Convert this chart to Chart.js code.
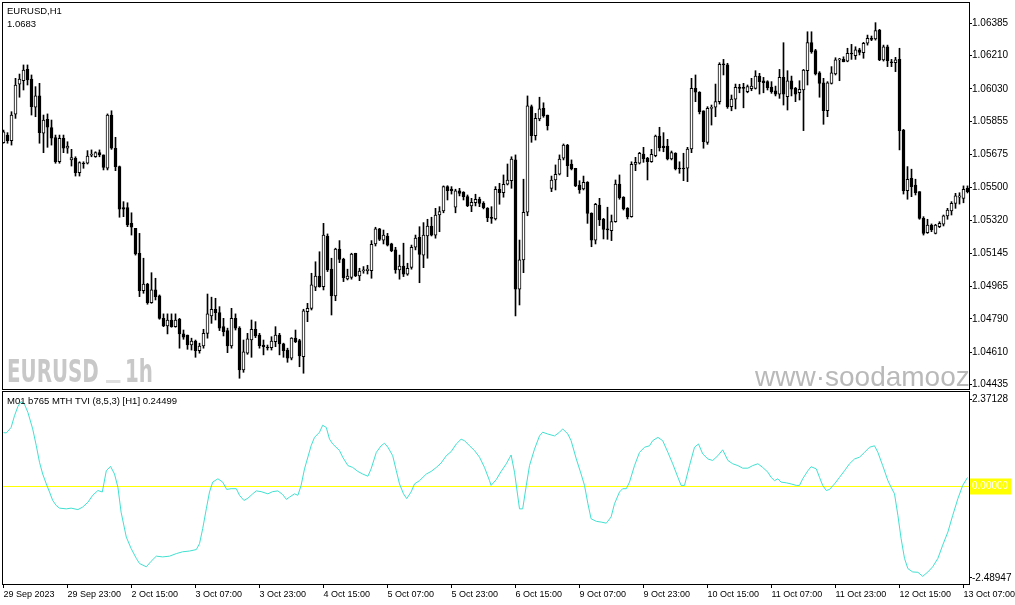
<!DOCTYPE html>
<html>
<head>
<meta charset="utf-8">
<script src="https://cdn.jsdelivr.net/npm/chart.js@4.4.1/dist/chart.umd.min.js"></script>
<style>
html, body { margin: 0; padding: 0; background: #fff; }
#wrap { position: relative; width: 1015px; height: 605px; overflow: hidden; background: #fff; }
canvas { position: absolute; left: 0; }
#price { top: 0; }
#tvi { top: 390px; }
</style>
</head>
<body>
<div id="wrap">
  <canvas id="price" width="1015" height="390"></canvas>
  <canvas id="tvi" width="1015" height="215"></canvas>
</div>
<script>
// EURUSD H1 bars, index 0 = 29 Sep 07:00 ... 241 = 13 Oct 08:00
const openP = [
  1.05740,1.05781,1.05751,1.05893,1.06055,1.06074,1.06135,1.06083,1.05931,1.05992,
  1.05791,1.05866,1.05821,1.05767,1.05637,1.05764,1.05710,1.05647,1.05656,1.05578,
  1.05629,1.05629,1.05672,1.05664,1.05686,1.05674,1.05602,1.05889,1.05710,1.05611,
  1.05390,1.05390,1.05305,1.05278,1.05144,1.04942,1.04978,1.04877,1.04946,1.04914,
  1.04793,1.04752,1.04784,1.04748,1.04788,1.04709,1.04703,1.04649,1.04671,1.04619,
  1.04644,1.04712,1.04806,1.04842,1.04824,1.04748,1.04727,1.04644,1.04793,1.04740,
  1.04515,1.04605,1.04676,1.04734,1.04703,1.04649,1.04635,1.04635,1.04667,1.04703,
  1.04655,1.04622,1.04578,1.04686,1.04673,1.04586,1.04829,1.04847,1.04961,1.05021,
  1.04964,1.05237,1.05058,1.04914,1.05167,1.05111,1.05005,1.05014,1.05144,1.05021,
  1.05048,1.05050,1.05050,1.05194,1.05275,1.05215,1.05237,1.05194,1.05162,1.05054,
  1.05075,1.05031,1.05068,1.05176,1.05230,1.05134,1.05237,1.05291,1.05242,1.05350,
  1.05372,1.05503,1.05490,1.05392,1.05480,1.05472,1.05449,1.05399,1.05416,1.05436,
  1.05413,1.05386,1.05336,1.05329,1.05489,1.05470,1.05516,1.05535,1.05647,1.04950,
  1.05108,1.05365,1.05934,1.05778,1.05868,1.05925,1.05889,1.05494,1.05539,1.05570,
  1.05656,1.05727,1.05625,1.05602,1.05512,1.05490,1.05526,1.05359,1.05215,1.05404,
  1.05327,1.05275,1.05266,1.05314,1.05517,1.05446,1.05386,1.05341,1.05623,1.05629,
  1.05679,1.05656,1.05637,1.05670,1.05776,1.05722,1.05722,1.05652,1.05683,1.05602,
  1.05602,1.05602,1.05706,1.06033,1.06012,1.05911,1.05742,1.05925,1.05931,1.05961,
  1.06162,1.06159,1.05934,1.05975,1.06036,1.06035,1.06015,1.06031,1.06033,1.06099,
  1.06074,1.06069,1.06040,1.06020,1.06002,1.06092,1.05988,1.06074,1.06033,1.06009,
  1.06024,1.06128,1.06279,1.06236,1.06117,1.06063,1.05912,1.06060,1.06110,1.06186,
  1.06189,1.06180,1.06222,1.06209,1.06240,1.06225,1.06276,1.06303,1.06299,1.06347,
  1.06186,1.06257,1.06176,1.06171,1.06189,1.05808,1.05481,1.05548,1.05512,1.05476,
  1.05332,1.05255,1.05296,1.05251,1.05287,1.05300,1.05345,1.05372,1.05413,1.05446,
  1.05440,1.05494
];
const highP = [
  1.05808,1.05794,1.05907,1.06087,1.06110,1.06159,1.06159,1.06105,1.06042,1.06060,
  1.05889,1.05895,1.05862,1.05781,1.05781,1.05781,1.05745,1.05704,1.05664,1.05637,
  1.05637,1.05697,1.05701,1.05691,1.05701,1.05674,1.05895,1.05912,1.05769,1.05614,
  1.05422,1.05416,1.05362,1.05278,1.05251,1.05117,1.04982,1.05039,1.05009,1.04919,
  1.04817,1.04817,1.04817,1.04817,1.04793,1.04730,1.04703,1.04686,1.04676,1.04659,
  1.04734,1.04924,1.04907,1.04901,1.04856,1.04793,1.04740,1.04847,1.04817,1.04748,
  1.04676,1.04712,1.04784,1.04775,1.04712,1.04676,1.04649,1.04694,1.04748,1.04712,
  1.04659,1.04632,1.04689,1.04730,1.04680,1.04842,1.04874,1.05036,1.05098,1.05152,
  1.05305,1.05248,1.05117,1.05171,1.05212,1.05117,1.05058,1.05144,1.05144,1.05063,
  1.05072,1.05079,1.05212,1.05284,1.05278,1.05269,1.05251,1.05198,1.05176,1.05134,
  1.05198,1.05090,1.05188,1.05242,1.05287,1.05309,1.05327,1.05338,1.05386,1.05395,
  1.05507,1.05508,1.05503,1.05489,1.05494,1.05476,1.05458,1.05440,1.05462,1.05446,
  1.05422,1.05390,1.05395,1.05503,1.05521,1.05566,1.05625,1.05664,1.05674,1.05215,
  1.05543,1.05992,1.05943,1.05898,1.05985,1.05955,1.05889,1.05560,1.05620,1.05674,
  1.05733,1.05731,1.05647,1.05602,1.05535,1.05560,1.05530,1.05362,1.05413,1.05440,
  1.05332,1.05392,1.05350,1.05539,1.05566,1.05449,1.05390,1.05637,1.05661,1.05688,
  1.05715,1.05661,1.05704,1.05781,1.05823,1.05794,1.05758,1.05695,1.05686,1.05637,
  1.05683,1.05715,1.06087,1.06105,1.06015,1.05912,1.05934,1.05943,1.06056,1.06171,
  1.06189,1.06168,1.05997,1.06056,1.06055,1.06060,1.06051,1.06087,1.06128,1.06114,
  1.06092,1.06074,1.06069,1.06045,1.06135,1.06279,1.06128,1.06099,1.06038,1.06074,
  1.06135,1.06338,1.06338,1.06243,1.06123,1.06087,1.06069,1.06150,1.06198,1.06195,
  1.06203,1.06249,1.06270,1.06257,1.06249,1.06281,1.06320,1.06315,1.06387,1.06351,
  1.06266,1.06266,1.06189,1.06200,1.06249,1.05812,1.05611,1.05597,1.05543,1.05476,
  1.05341,1.05327,1.05302,1.05300,1.05314,1.05350,1.05386,1.05422,1.05467,1.05470,
  1.05507,1.05507
];
const lowP = [
  1.05737,1.05737,1.05727,1.05871,1.05985,1.06024,1.06051,1.05889,1.05880,1.05737,
  1.05686,1.05715,1.05727,1.05629,1.05629,1.05686,1.05683,1.05614,1.05560,1.05560,
  1.05602,1.05625,1.05664,1.05661,1.05664,1.05593,1.05593,1.05704,1.05589,1.05338,
  1.05341,1.05287,1.05242,1.05134,1.04910,1.04928,1.04869,1.04874,1.04892,1.04788,
  1.04748,1.04709,1.04745,1.04745,1.04632,1.04680,1.04626,1.04622,1.04583,1.04605,
  1.04632,1.04686,1.04766,1.04784,1.04727,1.04698,1.04608,1.04632,1.04730,1.04470,
  1.04502,1.04599,1.04583,1.04689,1.04632,1.04596,1.04622,1.04622,1.04640,1.04596,
  1.04583,1.04556,1.04569,1.04662,1.04532,1.04497,1.04775,1.04838,1.04942,1.04961,
  1.04946,1.05045,1.04811,1.04888,1.05093,1.04991,1.05000,1.05004,1.05018,1.04996,
  1.05036,1.05032,1.05009,1.05183,1.05212,1.05194,1.05183,1.05152,1.05036,1.05004,
  1.05018,1.05025,1.05058,1.05162,1.04985,1.05066,1.05117,1.05237,1.05225,1.05260,
  1.05362,1.05431,1.05463,1.05362,1.05453,1.05431,1.05395,1.05368,1.05399,1.05395,
  1.05383,1.05314,1.05305,1.05323,1.05408,1.05446,1.05512,1.05494,1.04806,1.04865,
  1.05039,1.05346,1.05742,1.05754,1.05858,1.05877,1.05808,1.05476,1.05485,1.05566,
  1.05647,1.05557,1.05593,1.05503,1.05467,1.05485,1.05305,1.05179,1.05194,1.05293,
  1.05221,1.05219,1.05212,1.05311,1.05435,1.05377,1.05329,1.05338,1.05589,1.05625,
  1.05634,1.05539,1.05634,1.05664,1.05695,1.05691,1.05647,1.05647,1.05593,1.05575,
  1.05535,1.05530,1.05686,1.05961,1.05895,1.05710,1.05731,1.05835,1.05880,1.05948,
  1.06105,1.05925,1.05912,1.05922,1.06009,1.05928,1.06009,1.06020,1.06029,1.06002,
  1.06009,1.06024,1.06006,1.05992,1.05979,1.05943,1.05916,1.05992,1.05961,1.05970,
  1.05805,1.06051,1.06222,1.06105,1.05985,1.05839,1.05880,1.06056,1.06105,1.06074,
  1.06176,1.06176,1.06189,1.06189,1.06213,1.06195,1.06266,1.06290,1.06293,1.06182,
  1.06180,1.06150,1.06150,1.06123,1.05701,1.05463,1.05435,1.05449,1.05458,1.05327,
  1.05242,1.05251,1.05260,1.05248,1.05282,1.05291,1.05327,1.05350,1.05386,1.05409,
  1.05416,1.05469
];
const closeP = [
  1.05799,1.05751,1.05889,1.06051,1.06083,1.06132,1.06078,1.05934,1.05992,1.05794,
  1.05862,1.05823,1.05764,1.05637,1.05764,1.05710,1.05722,1.05659,1.05578,1.05632,
  1.05625,1.05668,1.05674,1.05686,1.05674,1.05607,1.05889,1.05710,1.05611,1.05381,
  1.05381,1.05296,1.05284,1.05140,1.04942,1.04978,1.04877,1.04946,1.04910,1.04793,
  1.04752,1.04784,1.04748,1.04784,1.04709,1.04691,1.04649,1.04671,1.04619,1.04644,
  1.04712,1.04817,1.04842,1.04824,1.04740,1.04721,1.04644,1.04793,1.04740,1.04515,
  1.04613,1.04682,1.04734,1.04698,1.04646,1.04640,1.04633,1.04671,1.04703,1.04655,
  1.04619,1.04578,1.04686,1.04667,1.04590,1.04833,1.04847,1.04973,1.05021,1.04964,
  1.05242,1.05054,1.04914,1.05167,1.05111,1.05012,1.05021,1.05140,1.05021,1.05048,
  1.05054,1.05059,1.05192,1.05275,1.05219,1.05242,1.05188,1.05158,1.05054,1.05075,
  1.05031,1.05063,1.05176,1.05225,1.05138,1.05242,1.05291,1.05242,1.05350,1.05368,
  1.05503,1.05481,1.05481,1.05480,1.05467,1.05449,1.05400,1.05419,1.05435,1.05413,
  1.05390,1.05336,1.05332,1.05489,1.05470,1.05516,1.05539,1.05652,1.04950,1.05108,
  1.05365,1.05938,1.05778,1.05871,1.05922,1.05884,1.05831,1.05539,1.05570,1.05652,
  1.05727,1.05616,1.05598,1.05507,1.05485,1.05526,1.05359,1.05215,1.05408,1.05323,
  1.05273,1.05269,1.05314,1.05517,1.05443,1.05383,1.05341,1.05623,1.05634,1.05683,
  1.05652,1.05637,1.05677,1.05776,1.05713,1.05713,1.05652,1.05686,1.05598,1.05598,
  1.05598,1.05706,1.06033,1.06012,1.05907,1.05745,1.05925,1.05931,1.05961,1.06162,
  1.06159,1.05934,1.05975,1.06038,1.06033,1.06033,1.06042,1.06045,1.06099,1.06069,
  1.06063,1.06036,1.06015,1.06002,1.06092,1.06002,1.06074,1.06029,1.06002,1.06028,
  1.06132,1.06279,1.06230,1.06110,1.06060,1.05912,1.06063,1.06117,1.06186,1.06189,
  1.06176,1.06222,1.06218,1.06240,1.06227,1.06276,1.06303,1.06297,1.06344,1.06186,
  1.06257,1.06182,1.06171,1.06186,1.05805,1.05481,1.05543,1.05503,1.05470,1.05332,
  1.05251,1.05296,1.05269,1.05296,1.05305,1.05345,1.05377,1.05413,1.05453,1.05453,
  1.05489,1.05476
];

const priceTicks = [1.06385, 1.06210, 1.06030, 1.05855, 1.05675, 1.05500, 1.05320, 1.05145, 1.04965, 1.04790, 1.04610, 1.04435];

// TVI indicator, sampled along the curve (bar position, value)
const tviBar = [
  0,0.7,1.9,2.75,3.6,4.4,5.25,6.1,7.3,8.2, 9,9.8,10.7,11.5,12.3,13.2,14,15.7,16.9,18.6,
  19.8,21.1,22.3,23.6,24.7,25.7,26.75,27.75,28.6,29.4, 30.7,31.9,33.2,34,35.7,36.9,38.2,39.8,41.5,43.2,
  44.8,46.5,48.2,49,49.8,50.7,51.5,52.3,53.6,54.8, 55.8,56.9,58.2,59,60.1,61.1,62.3,63.2,64.4,66.1,
  67.3,68.6,69.8,70.7,71.5,72.75,73.6,74.4,75.25,76.9, 77.75,79,79.8,80.7,81.5,82.3,84,84.8,86.1,87.3,
  88.6,89.8,91.1,91.9,93.2,94.4,95.25,96.1,97.3,98.2, 99,100,100.8,101.9,102.75,104,105.7,106.9,108.2,109.4,
  110.7,111.9,113.2,114.4,115.25,116.5,117.75,119,120.25,121.5, 121.9,123.2,124.4,125.7,126.9,127.75,129,129.8,130.7,131.5,
  132.75,134,134.8,136.1,137.75,139,139.8,141.1,141.9,143.2, 144.4,145.25,146.1,146.9,148.2,149.4,150.7,151.9,152.75,154,
  154.8,155.7,156.5,157.75,159,160.25,161.5,162.3,163.6,164.8, 166.1,167.3,168.6,169.4,170.25,171.5,172.75,173.75,174.8,176.1,
  177.3,178.6,179.8,181.1,182.3,183.6,184.8,186.1,187.3,188.6, 189.8,191.1,191.9,192.75,193.6,194.4,195.7,196.9,198.2,199,
  199.8,201.1,201.9,203.2,204,204.8,205.7,206.5,207.75,209, 210.25,211.5,212.75,214,215.25,216.5,217.75,218.6,219.8,221.1,
  221.9,222.75,223.6,224.4,225.25,226.1,227.3,228.6,229.8,231.1, 232.3,233.6,234.8,236.1,237.3,238.6,239.8,241
];
const tviVal = [
  1.47,1.46,1.61,1.93,2.18,2.32,2.24,2.02,1.57,1.11, 0.66,0.34,0.07,-0.15,-0.38,-0.52,-0.59,-0.61,-0.59,-0.63,
  -0.56,-0.43,-0.24,-0.11,-0.15,0.43,0.55,0.34,-0.02,-0.70, -1.38,-1.69,-1.96,-2.10,-2.19,-2.04,-1.90,-1.92,-1.90,-1.83,
  -1.78,-1.76,-1.72,-1.56,-1.15,-0.61,-0.15,0.12,0.21,0.12, -0.08,-0.06,-0.06,-0.24,-0.38,-0.32,-0.20,-0.12,-0.14,-0.20,
  -0.14,-0.12,-0.22,-0.35,-0.29,-0.20,-0.24,0.03,0.48,1.11, 1.34,1.48,1.67,1.61,1.29,1.16,0.98,0.80,0.57,0.52,
  0.41,0.34,0.28,0.48,0.93,1.11,1.18,1.07,0.84,0.43, 0.07,-0.20,-0.33,-0.15,0.07,0.16,0.34,0.41,0.52,0.64,
  0.84,0.95,1.16,1.29,1.25,1.11,0.98,0.80,0.52,0.16, 0.03,0.19,0.41,0.62,0.86,0.39,-0.61,-0.61,0.03,0.57,
  1.02,1.38,1.48,1.43,1.38,1.48,1.57,1.43,1.25,0.75, 0.34,0.03,-0.47,-0.88,-0.95,-0.97,-1.00,-0.83,-0.47,-0.15,
  -0.06,-0.06,0.12,0.57,0.93,1.07,1.11,1.25,1.34,1.25, 0.93,0.62,0.25,0.03,0.03,0.57,1.07,1.16,0.89,0.75,
  0.71,0.84,1.00,0.71,0.62,0.57,0.50,0.50,0.57,0.62, 0.52,0.39,0.25,0.16,0.21,0.12,0.10,0.07,0.03,0.03,
  0.21,0.43,0.54,0.48,0.25,0.03,-0.11,-0.08,0.07,0.25, 0.43,0.62,0.75,0.80,0.93,1.07,1.11,0.93,0.57,0.16,
  -0.02,-0.20,-0.79,-1.42,-1.96,-2.24,-2.33,-2.34,-2.45,-2.33, -2.19,-1.96,-1.60,-1.24,-0.79,-0.33,0.03,0.24499
];
const tviTicks = [2.37128, 0, -2.48947];
const tviLevel = 0;

const timeTickBar = [0, 16, 32, 48, 64, 80, 96, 112, 128, 144, 160, 176, 192, 208, 224, 240];
const timeTickLabels = ['29 Sep 2023', '29 Sep 23:00', '2 Oct 15:00', '3 Oct 07:00', '3 Oct 23:00', '4 Oct 15:00',
  '5 Oct 07:00', '5 Oct 23:00', '6 Oct 15:00', '9 Oct 07:00', '9 Oct 23:00', '10 Oct 15:00',
  '11 Oct 07:00', '11 Oct 23:00', '12 Oct 15:00', '13 Oct 07:00'];

const AXIS_FONT = { family: 'Liberation Sans', size: 10 };
const TIME_FONT = { family: 'Liberation Sans', size: 9 };
const INFO_FONT = '9.5px "Liberation Sans"';
const X_MIN = -0.125, X_MAX = 241.375;

// black frame around each plot area
const frame = {
  id: 'frame',
  afterDraw(chart) {
    const { ctx, chartArea: a } = chart;
    ctx.save();
    ctx.strokeStyle = '#000';
    ctx.lineWidth = 1;
    ctx.strokeRect(Math.round(a.left) - 0.5, Math.round(a.top) - 0.5,
      Math.round(a.right - a.left) + 1, Math.round(a.bottom - a.top) + 1);
    ctx.restore();
  }
};

const priceText = {
  id: 'priceText',
  beforeDatasetsDraw(chart) {
    const { ctx, chartArea: a } = chart;
    ctx.save();
    ctx.beginPath();
    ctx.rect(a.left, a.top, a.right - a.left, a.bottom - a.top);
    ctx.clip();
    ctx.font = 'bold 32px "DejaVu Sans"';
    ctx.textBaseline = 'alphabetic';
    [['EURUSD', 7, 382, '#c8c8c8', 0.62], ['_', 106, 375, '#dedede', 0.9], ['1h', 125, 382, '#c8c8c8', 0.62]].forEach(([t, x, y, c, k]) => {
      ctx.save();
      ctx.fillStyle = c;
      ctx.translate(x, y);
      ctx.scale(k, 1);
      ctx.fillText(t, 0, 0);
      ctx.restore();
    });
    ctx.fillStyle = '#b9b9b9';
    ctx.font = '28px "Liberation Sans"';
    ctx.fillText('www·soodamooz.com', 755, 386);
    ctx.restore();
  },
  afterDraw(chart) {
    const ctx = chart.ctx;
    ctx.save();
    ctx.fillStyle = '#000';
    ctx.font = INFO_FONT;
    ctx.textBaseline = 'middle';
    ctx.fillText('EURUSD,H1', 7, 11);
    ctx.fillText('1.0683', 7, 24);
    ctx.restore();
  }
};

const tviText = {
  id: 'tviText',
  afterDraw(chart) {
    const ctx = chart.ctx;
    ctx.save();
    ctx.fillStyle = '#000';
    ctx.font = INFO_FONT;
    ctx.textBaseline = 'middle';
    ctx.fillText('M01 b765 MTH TVI (8,5,3) [H1] 0.24499', 7, 11);
    ctx.restore();
  }
};

// candles: wick = low..high, body = open..close
const wicks = lowP.map((l, i) => ({ x: i, y: [l, highP[i]] }));
const bodies = openP.map((o, i) => ({ x: i, y: [o, closeP[i]] }));
const bodyFill = openP.map((o, i) => (closeP[i] >= o ? '#ffffff' : '#000000'));

new Chart(document.getElementById('price'), {
  type: 'bar',
  data: {
    datasets: [
      {
        data: bodies, backgroundColor: bodyFill, borderColor: '#000000', borderWidth: 1,
        borderSkipped: false, barThickness: 3, minBarLength: 1, grouped: false, order: 0, clip: 0
      },
      {
        data: wicks, backgroundColor: '#000000', borderWidth: 0,
        barThickness: 1, grouped: false, order: 1, clip: 0
      }
    ]
  },
  options: {
    responsive: false,
    animation: false,
    devicePixelRatio: 1,
    layout: { padding: { left: 3, top: 3, right: 0, bottom: 1 } },
    plugins: { legend: { display: false }, tooltip: { enabled: false } },
    scales: {
      x: { type: 'linear', display: false, min: X_MIN, max: X_MAX, offset: false },
      y: {
        position: 'right', min: 1.04412, max: 1.06493, bounds: 'data', beginAtZero: false,
        afterBuildTicks: s => { s.ticks = priceTicks.map(v => ({ value: v })); },
        afterFit: s => { s.width = 46; s.paddingTop = 0; s.paddingBottom = 0; },
        grid: { drawOnChartArea: false, drawTicks: true, tickLength: 3, color: '#000' },
        border: { display: false },
        ticks: { font: AXIS_FONT, color: '#000', padding: 0, callback: v => v.toFixed(5) }
      }
    }
  },
  plugins: [frame, priceText]
});

new Chart(document.getElementById('tvi'), {
  type: 'line',
  data: {
    datasets: [
      {
        data: tviBar.map((b, i) => ({ x: b, y: tviVal[i] })),
        borderColor: '#40e0d0', borderWidth: 1, pointRadius: 0, tension: 0, order: 0, clip: 0
      },
      {
        data: [{ x: X_MIN, y: tviLevel }, { x: X_MAX, y: tviLevel }],
        borderColor: '#ffff00', borderWidth: 1, pointRadius: 0, order: 1, clip: 0
      }
    ]
  },
  options: {
    responsive: false,
    animation: false,
    devicePixelRatio: 1,
    layout: { padding: { left: 3, top: 2, right: 0, bottom: 0 } },
    plugins: { legend: { display: false }, tooltip: { enabled: false } },
    scales: {
      x: {
        type: 'linear', min: X_MIN, max: X_MAX, offset: false,
        afterBuildTicks: s => { s.ticks = timeTickBar.map(v => ({ value: v })); },
        afterFit: s => { s.height = 21; s.paddingLeft = 0; s.paddingRight = 0; },
        grid: { drawOnChartArea: false, drawTicks: true, tickLength: 4, color: '#000' },
        border: { display: false },
        ticks: {
          font: TIME_FONT, color: '#000', padding: 1, align: 'start', maxRotation: 0, autoSkip: false,
          callback: (v, i) => timeTickLabels[i]
        }
      },
      y: {
        position: 'right', min: -2.659, max: 2.577, bounds: 'data',
        afterBuildTicks: s => { s.ticks = tviTicks.map(v => ({ value: v })); },
        afterFit: s => { s.width = 46; s.paddingTop = 0; s.paddingBottom = 0; },
        grid: { drawOnChartArea: false, drawTicks: true, tickLength: 3, color: '#000' },
        border: { display: false },
        ticks: {
          font: AXIS_FONT, padding: 0,
          color: c => (c.tick && c.tick.value === 0 ? '#ffffff' : '#000000'),
          showLabelBackdrop: c => !!(c.tick && c.tick.value === 0),
          backdropColor: '#ffff00',
          backdropPadding: { x: 3, y: 2 },
          callback: v => v.toFixed(5)
        }
      }
    }
  },
  plugins: [frame, tviText]
});
</script>
</body>
</html>
